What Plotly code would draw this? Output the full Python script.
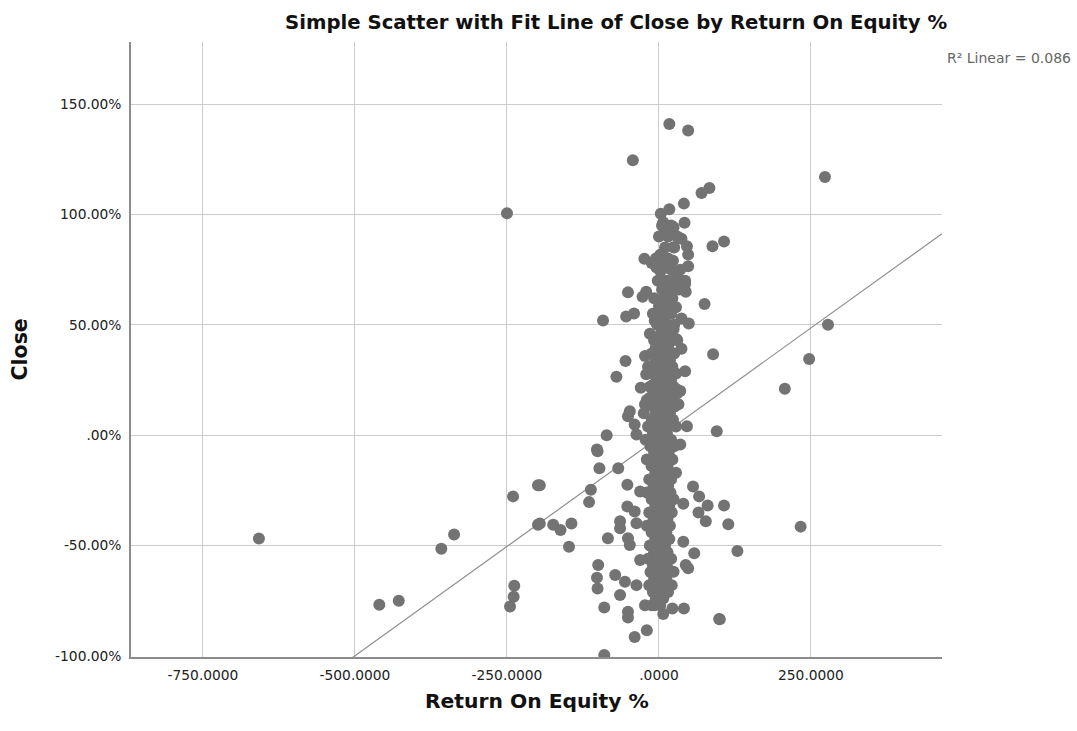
import plotly.graph_objects as go

# Return On Equity % (x) and Close % (y) for each company
outlier_roe = [-658, -460, -428, -358, -337, -240, -199, -199, -238, -239, -245,
               -250, -43, 17, 48, 273, 278, 247, 207, 233, 99, -90,
               -196, -196, -174, -162, -144, -148, -112, -115, -101, -98, -102, -100, -102, -101, -90]
outlier_close = [-46.8, -76.8, -75.0, -51.4, -45.0, -27.7, -22.7, -40.5, -68.2, -73.2, -77.6,
                 100.5, 124.5, 141.0, 138.0, 117.0, 50.0, 34.5, 21.0, -41.4, -83.2, -99.5,
                 -22.7, -40.0, -40.6, -42.9, -40.0, -50.5, -24.7, -30.3, -7.3, -15.0, -6.5, -58.8, -64.5, -69.4, -78.0]

upper_roe = [83, 70, 41, 17, 3, 7, 42, 13, 24, 37, 46, 88, 107, 24, 48, -24, -12, 2, 7, -4, 48, 29,
             15, 43, 23, 2, 30, -51, -21, -27, 13, 43, 44, 15, 75, 0, 18, 13, -92, -54, -41, -7,
             10, 37, 49, 7, 24, 29, -1, 37, 14, 89, -55, -23, -70, -30, -21, 43, 29, 2, 10, -9,
             -48, -51, -40, -37, -23, -15, 32, 35, 46, 95, -86, 35, -67, -52, -31, -40, -37, -64]
upper_close = [112, 109.7, 104.9, 102.3, 100.3, 96.5, 96.2, 92.7, 94.2, 89, 85.6, 85.6, 87.7, 85.1,
               81.8, 79.9, 78, 81.7, 77.6, 76, 76.5, 73, 70, 70, 79, 74.5, 72.7, 64.7, 65, 62.7,
               68.5, 68.5, 65, 64, 59.4, 58.6, 57.9, 61.7, 52, 53.8, 55.1, 51.8, 53.3, 52.9, 50.6,
               47.3, 48, 43.5, 42, 39.2, 39.7, 36.7, 33.6, 35.9, 26.5, 21.5, 27.6, 29, 20.8, 32.1,
               26, 23, 10.9, 8.6, 4.8, 0.3, 14, 17, 14, 20, 4.1, 1.8, 0, -4.2, -15, -22.4, -25.5,
               -34.5, -39.9, -39]

lower_roe = [56, 66, 80, 65, 77, 107, 114, 40, 40, 58, 48, 44, 129, 100, 24, 21, 41, 22, 7, -7,
             -23, -84, -51, -48, -52, -64, -72, -64, -51, -51, -40, -20, -37, -56, -31]
lower_close = [-23.2, -27.7, -31.8, -35, -39, -31.8, -40.3, -31, -48.2, -53.5, -60.3, -58.8, -52.4,
               -83.3, -61.8, -67.9, -78.5, -78.5, -81, -77, -77, -46.7, -46.7, -49.7, -32.3, -42.1,
               -63.3, -72.4, -80, -82.6, -91.4, -88.3, -67.9, -66.4, -56.5]

core_roe = [5, 20, 0, 15, 30, 10, 25, -5, 15, 5, 20, 35, -2, 10, 28, 5, 18, 33, -8, 8, 22,
            2, 15, 28, -10, 5, 20, -3, 12, 25, -15, 3, 18, -8, 8, 22, 30, -5, 5, 15,
            -12, 0, 12, 25, -6, 6, 18, -18, -2, 10, 22, -10, 2, 14, 28, -4, 8, 20,
            -15, -1, 12, 24, -8, 4, 16, 30, -20, -3, 9, 21, -10, 2, 14, 26, -25, -5, 6, 18,
            -12, 0, 11, 23, -18, -6, 5, 16, 28, -10, 2, 13, -22, -4, 8, 20, -14, 0, 12, 25,
            -8, 4, 16, -20, -2, 10, 22, -12, 2, 14, -6, 6, 18, 28, -16, -1, 10, 20, -9, 4, 15,
            -20, -3, 8, 19, -12, 1, 12, 24, -6, 6, 17, -16, -2, 10, 21, -9, 3, 14,
            -20, -4, 8, 18, -12, 0, 12, -6, 6, 17, -15, -1, 10, -8, 4, 14, -18, -3, 8, 20,
            -10, 2, 13, -14, -4, 7, 18, -8, 3, 12, -16, -2, 9, -10, 4, 15, -5, 7, -12, 2]
core_close = [95, 95, 90, 90, 90, 85, 85, 80, 80, 75, 75, 75, 70, 70, 70, 66, 66, 66, 62, 62, 62,
              58, 58, 58, 55, 55, 55, 50, 50, 50, 46, 46, 46, 43, 43, 43, 43, 40, 40, 40,
              37, 37, 37, 37, 34, 34, 34, 31, 31, 31, 31, 28, 28, 28, 28, 25, 25, 25,
              22, 22, 22, 22, 19, 19, 19, 19, 16, 16, 16, 16, 13, 13, 13, 13, 10, 10, 10, 10,
              7, 7, 7, 7, 4, 4, 4, 4, 4, 1, 1, 1, -2, -2, -2, -2, -5, -5, -5, -5,
              -8, -8, -8, -11, -11, -11, -11, -14, -14, -14, -17, -17, -17, -17, -20, -20, -20, -20, -23, -23, -23,
              -26, -26, -26, -26, -29, -29, -29, -29, -32, -32, -32, -35, -35, -35, -35, -38, -38, -38,
              -41, -41, -41, -41, -44, -44, -44, -47, -47, -47, -50, -50, -50, -53, -53, -53, -56, -56, -56, -56,
              -59, -59, -59, -62, -62, -62, -62, -65, -65, -65, -68, -68, -68, -71, -71, -71, -74, -74, -77, -77]

roe = outlier_roe + upper_roe + lower_roe + core_roe
close = outlier_close + upper_close + lower_close + core_close

# Linear fit reported by the analysis
fit_intercept = -0.9
fit_slope = 0.198
r2_linear = 0.086

x_ticks = [-750, -500, -250, 0, 250]
x_tick_labels = ["-750.0000", "-500.0000", "-250.0000", ".0000", "250.0000"]
y_ticks = [-100, -50, 0, 50, 100, 150]
y_tick_labels = ["-100.00%", "-50.00%", ".00%", "50.00%", "100.00%", "150.00%"]

x_range = [-868.4, 465.5]
y_range = [-100.45, 178.1]

FONT = "DejaVu Sans, Liberation Sans, Arial, sans-serif"
GRID = "#cccccc"
AXIS = "#8c8c8c"
DOT = "#737373"

fig = go.Figure()

fit_x = list(x_range)
fit_y = [fit_intercept + fit_slope * v for v in fit_x]
fig.add_trace(go.Scatter(x=fit_x, y=fit_y, mode="lines",
                         line=dict(color="#8f8f8f", width=1.2),
                         hoverinfo="skip", showlegend=False))

fig.add_trace(go.Scatter(x=roe, y=close, mode="markers",
                         marker=dict(color=DOT, size=12, line=dict(width=0)),
                         showlegend=False))

fig.update_layout(
    width=1077, height=731,
    margin=dict(l=131, r=135, t=42, b=74),
    paper_bgcolor="white", plot_bgcolor="white",
    font=dict(family=FONT, size=13.8, color="#222222"),
    showlegend=False,
    xaxis=dict(range=x_range, tickvals=x_ticks, ticktext=x_tick_labels,
               showgrid=True, gridcolor=GRID, gridwidth=1.3, zeroline=False,
               showline=True, linecolor=AXIS, linewidth=1.5, ticks="",
               ticklabelstandoff=5),
    yaxis=dict(range=y_range, tickvals=y_ticks, ticktext=y_tick_labels,
               showgrid=True, gridcolor=GRID, gridwidth=1.3, zeroline=False,
               showline=True, linecolor=AXIS, linewidth=1.5, ticks="",
               ticklabelstandoff=5),
    annotations=[
        dict(text="Simple Scatter with Fit Line of Close by Return On Equity %",
             xref="paper", yref="paper", x=(616 - 131) / 811, y=1, yshift=20,
             xanchor="center", yanchor="middle", showarrow=False,
             font=dict(family=FONT, size=19.7, color="#111111", weight="bold")),
        dict(text=f"R² Linear = {r2_linear:.3f}",
             xref="paper", yref="paper", x=1, xshift=131, y=1, yshift=-16,
             xanchor="right", yanchor="middle", showarrow=False,
             font=dict(family=FONT, size=14, color="#666666")),
        dict(text="Return On Equity %",
             xref="paper", yref="paper", x=0.5, y=0, yshift=-44,
             xanchor="center", yanchor="middle", showarrow=False,
             font=dict(family=FONT, size=20.3, color="#111111", weight="bold")),
        dict(text="Close", textangle=-90,
             xref="paper", yref="paper", x=0, xshift=-112, y=0.5,
             xanchor="center", yanchor="middle", showarrow=False,
             font=dict(family=FONT, size=20.5, color="#111111", weight="bold")),
    ],
)

fig.write_html("out.html")
